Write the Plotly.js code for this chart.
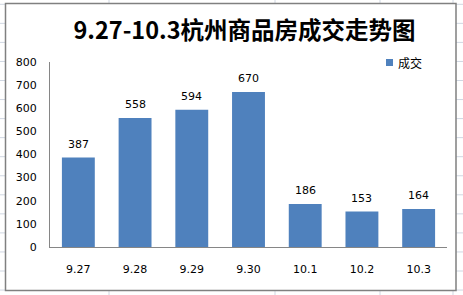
<!DOCTYPE html>
<html>
<head>
<meta charset="utf-8">
<script src="https://cdn.plot.ly/plotly-3.0.1.min.js"></script>
<style>html,body{margin:0;padding:0;background:#fff;}#chart{width:463px;height:295px;}</style>
</head>
<body>
<div id="chart"></div>
<script>
const categories = ["9.27", "9.28", "9.29", "9.30", "10.1", "10.2", "10.3"];
const deals = [387, 558, 594, 670, 186, 153, 164];
const seriesName = "成交";
const titleText = "9.27-10.3杭州商品房成交走势图";

const W = 463, H = 295;
const M = {l: 50, r: 16, t: 62, b: 48};
const pw = W - M.l - M.r, ph = H - M.t - M.b;
const px = x => (x - M.l) / pw;
const py = y => (H - M.b - y) / ph;

const shapes = [];
// spreadsheet cell grid behind the chart
const gridColor = "#d0d7e2";
for (let k = 0; k < 16; k++) {
  const y = 4.3 + 19.05 * k;
  shapes.push({type: "line", xref: "paper", yref: "paper", x0: px(0), x1: px(W), y0: py(y), y1: py(y),
    line: {color: gridColor, width: 1}, layer: "below"});
}
[109, 275, 380, 453].forEach(x => {
  shapes.push({type: "line", xref: "paper", yref: "paper", x0: px(x), x1: px(x), y0: py(0), y1: py(H),
    line: {color: gridColor, width: 1}, layer: "below"});
});
// chart area box
shapes.push({type: "rect", xref: "paper", yref: "paper", x0: px(5.5), x1: px(456), y0: py(3.5), y1: py(290.5),
  fillcolor: "#ffffff", line: {color: "#808080", width: 1.5}, layer: "below"});
// legend swatch
shapes.push({type: "rect", xref: "paper", yref: "paper", x0: px(386), x1: px(393), y0: py(59), y1: py(66),
  fillcolor: "#4F81BD", line: {width: 0}});

const labelFont = {family: "DejaVu Sans, Verdana, sans-serif", size: 11, color: "#000"};
const annotations = categories.map((c, i) => ({
  x: i, y: deals[i], xref: "x", yref: "y", text: String(deals[i]), showarrow: false,
  yanchor: "bottom", yshift: 5, font: labelFont
}));
annotations.push({xref: "paper", yref: "paper", x: px(396), y: py(62.5), xanchor: "left", yanchor: "middle",
  text: seriesName, showarrow: false, font: {family: "Noto Sans CJK SC, sans-serif", size: 12, color: "#000"}});

const data = [{
  type: "bar", x: categories, y: deals, name: seriesName,
  marker: {color: "#4F81BD"}, hoverinfo: "x+y"
}];

const layout = {
  width: W, height: H,
  margin: M,
  paper_bgcolor: "#ffffff",
  plot_bgcolor: "rgba(0,0,0,0)",
  showlegend: false,
  bargap: 0.42,
  title: {
    text: "<b>" + titleText + "</b>",
    font: {family: "Noto Sans CJK SC, sans-serif", size: 23.5, color: "#000"},
    x: 244.5 / W, xanchor: "center", xref: "container",
    y: 1 - 31 / H, yanchor: "middle", yref: "container"
  },
  xaxis: {
    type: "category", range: [-0.5, categories.length - 0.5],
    showline: true, linecolor: "#868686", linewidth: 1,
    ticks: "", showgrid: false, zeroline: false,
    tickfont: labelFont, ticklabelstandoff: 12, fixedrange: true
  },
  yaxis: {
    range: [0, 800], dtick: 100, tick0: 0, showline: true, linecolor: "#868686", linewidth: 1,
    ticks: "", showgrid: false, zeroline: false,
    tickfont: labelFont, ticklabelstandoff: 10, fixedrange: true
  },
  shapes: shapes,
  annotations: annotations
};

Plotly.newPlot("chart", data, layout, {displayModeBar: false, staticPlot: true});
</script>
</body>
</html>
